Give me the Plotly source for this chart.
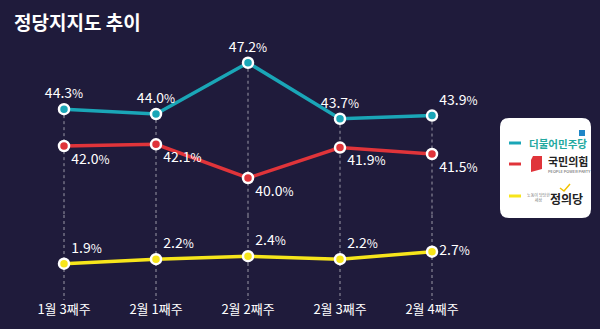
import plotly.graph_objects as go
from plotly.subplots import make_subplots

# ---- data ----
weeks = ["1월 3째주", "2월 1째주", "2월 2째주", "2월 3째주", "2월 4째주"]
minju = [44.3, 44.0, 47.2, 43.7, 43.9]
ppp = [42.0, 42.1, 40.0, 41.9, 41.5]
justice = [1.9, 2.2, 2.4, 2.2, 2.7]

party_names = ["더불어민주당", "국민의힘", "정의당"]
title_text = "정당지지도 추이"

# ---- style ----
BG = "#1f1b3b"
BLUE = "#1aa6b7"
RED = "#e0343a"
YELLOW = "#f7e51b"
FONT = "Noto Sans CJK KR"
W, H = 600, 329

def dom(top_px, bot_px):
    return [1 - bot_px / H, 1 - top_px / H]

# top panel: 16 px per unit, 43.06 at 128 px; bottom panel: 15 px per unit
top_range = [43.06 - (215 - 129) / 16, 43.06 + (129 - 40) / 16]
bot_range = [-0.52, 5.147]

fig = make_subplots(rows=2, cols=1, shared_xaxes=True, vertical_spacing=0)

# dashed guide lines (top panel: from highest value down; bottom panel: full)
gx, gy = [], []
for w, a, b in zip(weeks, minju, ppp):
    gx += [w, w, None]
    gy += [max(a, b), top_range[0], None]
fig.add_trace(go.Scatter(x=gx, y=gy, mode="lines", hoverinfo="skip",
                         line=dict(color="rgba(255,255,255,0.55)", width=1, dash="3px,3px"),
                         showlegend=False), row=1, col=1)
gx2, gy2 = [], []
for w in weeks:
    gx2 += [w, w, None]
    gy2 += [bot_range[1], bot_range[0], None]
fig.add_trace(go.Scatter(x=gx2, y=gy2, mode="lines", hoverinfo="skip",
                         line=dict(color="rgba(255,255,255,0.55)", width=1, dash="3px,3px"),
                         showlegend=False), row=2, col=1)

def series(y, color, positions):
    return go.Scatter(
        x=weeks, y=y, mode="lines+markers+text",
        line=dict(color=color, width=3.5),
        marker=dict(color=color, size=10, line=dict(color="white", width=2.5)),
        texttemplate="%{y:.1f}<span style='font-size:12px'>%</span>", textposition=positions,
        textfont=dict(color="white", size=14, family=FONT),
        showlegend=False, cliponaxis=False,
    )

fig.add_trace(series(ppp, RED, ["bottom right"] * 5), row=1, col=1)
fig.add_trace(series(minju, BLUE, ["top center"] * 4 + ["top right"]), row=1, col=1)
fig.add_trace(series(justice, YELLOW, ["top right"] * 4 + ["middle right"]), row=2, col=1)

xr = [-64 / 92, (W - 64) / 92]
fig.update_xaxes(range=xr, showgrid=False, zeroline=False, showline=False,
                 tickfont=dict(color="white", size=13, family=FONT), ticks="")
fig.update_xaxes(showticklabels=False, row=1, col=1)
fig.update_yaxes(visible=False, showgrid=False, zeroline=False)
fig.update_layout(
    xaxis=dict(domain=[0, 1]),
    xaxis2=dict(domain=[0, 1], type="category", categoryorder="array", categoryarray=weeks),
    yaxis=dict(domain=dom(40, 215), range=top_range),
    yaxis2=dict(domain=dom(215, 300), range=bot_range),
)

# ---- legend card ----
shapes = []
x0, x1, y0, y1, r = 500, 591, 118, 218, 9
def px(x):
    return x / W
def py(y):
    return 1 - y / H
path = (f"M {px(x0+r)},{py(y0)} L {px(x1-r)},{py(y0)} Q {px(x1)},{py(y0)} {px(x1)},{py(y0+r)} "
        f"L {px(x1)},{py(y1-r)} Q {px(x1)},{py(y1)} {px(x1-r)},{py(y1)} "
        f"L {px(x0+r)},{py(y1)} Q {px(x0)},{py(y1)} {px(x0)},{py(y1-r)} "
        f"L {px(x0)},{py(y0+r)} Q {px(x0)},{py(y0)} {px(x0+r)},{py(y0)} Z")
shapes.append(dict(type="path", xref="paper", yref="paper", path=path,
                   fillcolor="white", line=dict(width=0), layer="above"))
legend_rows = [(143, BLUE), (164, RED), (196, YELLOW)]
for yy, c in legend_rows:
    shapes.append(dict(type="line", xref="paper", yref="paper",
                       x0=px(509), x1=px(521), y0=py(yy), y1=py(yy),
                       line=dict(color=c, width=3), layer="above"))
# PPP red logo block
shapes.append(dict(type="path", xref="paper", yref="paper", layer="above",
                   path=(f"M {px(533)},{py(156)} L {px(542)},{py(156)} L {px(542)},{py(169)} "
                         f"L {px(531)},{py(172)} L {px(531)},{py(160)} Z"),
                   fillcolor=RED, line=dict(width=0)))
# Justice check mark
shapes.append(dict(type="path", xref="paper", yref="paper", layer="above",
                   path=(f"M {px(560)},{py(188)} L {px(564)},{py(191)} L {px(570)},{py(184)}"),
                   line=dict(color="#f2c200", width=1.5)))
# Minju flag
shapes.append(dict(type="rect", xref="paper", yref="paper", layer="above",
                   x0=px(579), x1=px(585), y0=py(136), y1=py(130),
                   fillcolor="#1f86c8", line=dict(width=0)))

ann = [
    dict(text="<b>" + title_text + "</b>", x=px(12), y=py(22), xref="paper", yref="paper",
         xanchor="left", yanchor="middle", showarrow=False,
         font=dict(color="white", size=19, family=FONT)),
    dict(text="<b>" + party_names[0] + "</b>", x=px(527), y=py(143), xref="paper", yref="paper",
         xanchor="left", yanchor="middle", showarrow=False,
         font=dict(color="#23a9a0", size=10.5, family=FONT)),
    dict(text="<b>" + party_names[1] + "</b>", x=px(546), y=py(161), xref="paper", yref="paper",
         xanchor="left", yanchor="middle", showarrow=False,
         font=dict(color="#222", size=11, family=FONT)),
    dict(text="PEOPLE POWER PARTY", x=px(546), y=py(171), xref="paper", yref="paper",
         xanchor="left", yanchor="middle", showarrow=False,
         font=dict(color="#555", size=4, family=FONT)),
    dict(text="노동이 당당한<br>세상", x=px(538), y=py(197), xref="paper", yref="paper",
         xanchor="center", yanchor="middle", showarrow=False,
         font=dict(color="#777", size=4, family=FONT)),
    dict(text="<b>" + party_names[2] + "</b>", x=px(548), y=py(198), xref="paper", yref="paper",
         xanchor="left", yanchor="middle", showarrow=False,
         font=dict(color="#222", size=12, family=FONT)),
]

fig.update_layout(
    width=W, height=H, margin=dict(l=0, r=0, t=0, b=0),
    paper_bgcolor=BG, plot_bgcolor="rgba(0,0,0,0)",
    shapes=shapes, annotations=ann, showlegend=False,
    font=dict(family=FONT, color="white"),
)
fig.write_html("out.html")
